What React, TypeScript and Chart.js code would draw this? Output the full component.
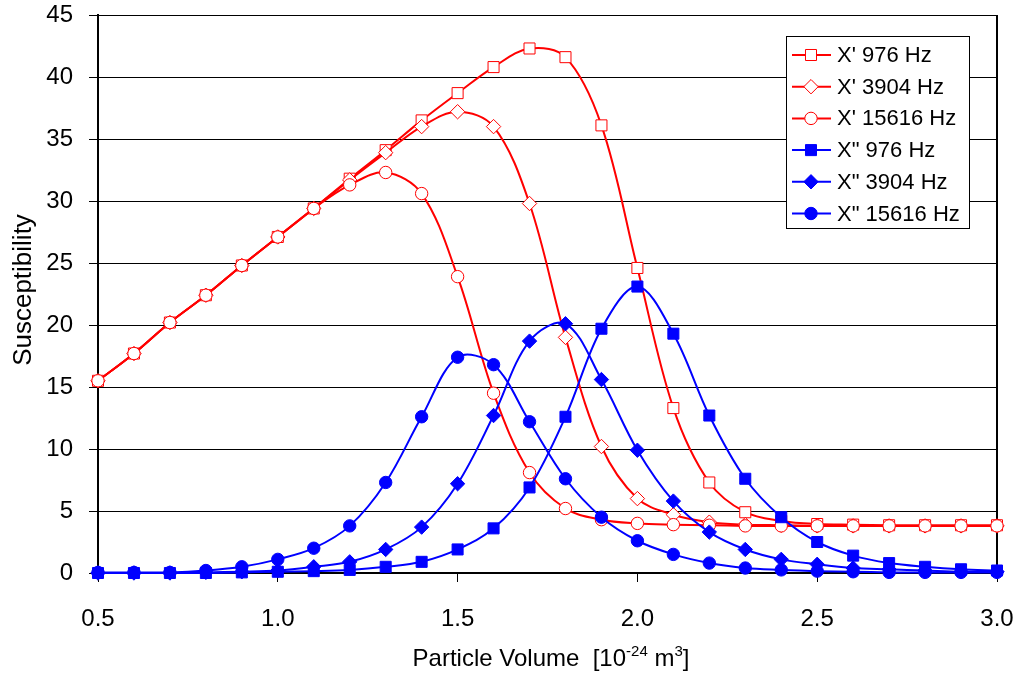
import React, { useEffect, useRef } from 'react';
import { Chart, registerables } from 'chart.js';

Chart.register(...registerables);

const volumes = [0.5, 0.6, 0.7, 0.8, 0.9, 1.0, 1.1, 1.2, 1.3, 1.4, 1.5, 1.6, 1.7, 1.8, 1.9, 2.0, 2.1, 2.2, 2.3, 2.4, 2.5, 2.6, 2.7, 2.8, 2.9, 3.0];

const xp976 = [15.5, 17.7, 20.2, 22.4, 24.8, 27.1, 29.4, 31.8, 34.1, 36.5, 38.7, 40.8, 42.3, 41.6, 36.1, 24.6, 13.3, 7.3, 4.9, 4.2, 3.95, 3.9, 3.85, 3.85, 3.85, 3.85];
const xp3904 = [15.5, 17.7, 20.2, 22.4, 24.8, 27.1, 29.4, 31.7, 33.9, 36.0, 37.2, 36.0, 29.8, 19.0, 10.2, 6.0, 4.7, 4.1, 3.9, 3.85, 3.8, 3.8, 3.8, 3.8, 3.8, 3.8];
const xp15616 = [15.5, 17.7, 20.2, 22.4, 24.8, 27.1, 29.4, 31.3, 32.3, 30.6, 23.9, 14.5, 8.1, 5.2, 4.3, 4.0, 3.9, 3.85, 3.8, 3.8, 3.8, 3.8, 3.8, 3.8, 3.8, 3.8];
const xpp976 = [0, 0, 0, 0, 0.05, 0.1, 0.15, 0.25, 0.5, 0.9, 1.9, 3.6, 6.9, 12.6, 19.7, 23.1, 19.3, 12.7, 7.6, 4.5, 2.5, 1.4, 0.8, 0.5, 0.3, 0.2];
const xpp3904 = [0, 0, 0, 0.05, 0.1, 0.2, 0.5, 0.9, 1.9, 3.7, 7.2, 12.7, 18.7, 20.1, 15.6, 9.9, 5.8, 3.3, 1.9, 1.1, 0.7, 0.4, 0.3, 0.2, 0.1, 0.1];
const xpp15616 = [0.05, 0.05, 0.05, 0.2, 0.5, 1.1, 2.0, 3.8, 7.3, 12.6, 17.4, 16.8, 12.2, 7.6, 4.5, 2.6, 1.5, 0.8, 0.4, 0.25, 0.15, 0.1, 0.05, 0.05, 0.05, 0.05];

const seriesLabels = ["X' 976 Hz", "X' 3904 Hz", "X' 15616 Hz", 'X" 976 Hz', 'X" 3904 Hz', 'X" 15616 Hz'];
const seriesValues = [xp976, xp3904, xp15616, xpp976, xpp3904, xpp15616];
const seriesShapes = ['rect', 'rectRot', 'circle', 'rect', 'rectRot', 'circle'];

const yTitle = 'Susceptibility';
const xTitleParts = ['Particle Volume  [10', '-24', ' m', '3', ']'];

const FONT = '"Liberation Sans", Arial, Helvetica, sans-serif';
const RED = '#ff0000';
const BLUE = '#0000ff';

const radiusFor = (shape: string) => (shape === 'rect' ? 7.8 : shape === 'rectRot' ? 7.2 : 6.2);

function drawMarker(ctx: CanvasRenderingContext2D, shape: string, x: number, y: number, r: number, fill: string, stroke: string) {
  ctx.beginPath();
  if (shape === 'rect') {
    const s = Math.SQRT1_2 * r;
    ctx.rect(x - s, y - s, 2 * s, 2 * s);
  } else if (shape === 'rectRot') {
    ctx.moveTo(x - r, y);
    ctx.lineTo(x, y - r);
    ctx.lineTo(x + r, y);
    ctx.lineTo(x, y + r);
    ctx.closePath();
  } else {
    ctx.arc(x, y, r, 0, Math.PI * 2);
  }
  ctx.fillStyle = fill;
  ctx.fill();
  ctx.lineWidth = 1;
  ctx.strokeStyle = stroke;
  ctx.stroke();
}

const decorPlugin = {
  id: 'decor',
  beforeDatasetsDraw(chart: any) {
    const { ctx, chartArea: a } = chart;
    ctx.save();
    ctx.strokeStyle = '#000';
    ctx.lineWidth = 2;
    ctx.beginPath();
    ctx.moveTo(a.right, a.top);
    ctx.lineTo(a.right, a.bottom);
    ctx.stroke();
    ctx.restore();
  },
  afterDraw(chart: any) {
    const { ctx } = chart;
    ctx.save();
    // legend box
    const bx = 786, by = 36, bw = 183, bh = 192;
    ctx.fillStyle = '#fff';
    ctx.fillRect(bx, by, bw, bh);
    ctx.strokeStyle = '#000';
    ctx.lineWidth = 1;
    ctx.strokeRect(bx + 0.5, by + 0.5, bw, bh);
    ctx.font = `22px ${FONT}`;
    ctx.textAlign = 'left';
    ctx.textBaseline = 'middle';
    for (let i = 0; i < seriesLabels.length; i++) {
      const y = 55 + i * 31.7;
      const isRed = i < 3;
      const col = isRed ? RED : BLUE;
      ctx.strokeStyle = col;
      ctx.lineWidth = 2;
      ctx.beginPath();
      ctx.moveTo(792, y);
      ctx.lineTo(831, y);
      ctx.stroke();
      drawMarker(ctx, seriesShapes[i], 811, y, radiusFor(seriesShapes[i]), isRed ? '#fff' : BLUE, col);
      ctx.fillStyle = '#000';
      ctx.fillText(seriesLabels[i], 837, y + 1);
    }
    // y title
    ctx.save();
    ctx.translate(24, 290);
    ctx.rotate(-Math.PI / 2);
    ctx.font = `26px ${FONT}`;
    ctx.textAlign = 'center';
    ctx.textBaseline = 'middle';
    ctx.fillStyle = '#000';
    ctx.fillText(yTitle, 0, 0);
    ctx.restore();
    // x title with superscripts
    const big = `24px ${FONT}`;
    const small = `15px ${FONT}`;
    const fonts = [big, small, big, small, big];
    const offs = [0, -10, 0, -10, 0];
    let total = 0;
    const widths: number[] = [];
    for (let i = 0; i < xTitleParts.length; i++) {
      ctx.font = fonts[i];
      const w = ctx.measureText(xTitleParts[i]).width;
      widths.push(w);
      total += w;
    }
    let x = 551 - total / 2;
    ctx.textAlign = 'left';
    ctx.textBaseline = 'alphabetic';
    ctx.fillStyle = '#000';
    for (let i = 0; i < xTitleParts.length; i++) {
      ctx.font = fonts[i];
      ctx.fillText(xTitleParts[i], x, 666 + offs[i]);
      x += widths[i];
    }
    ctx.restore();
  },
};

export default function App() {
  const ref = useRef<HTMLCanvasElement | null>(null);
  useEffect(() => {
    document.body.style.margin = '0';
    const canvas = ref.current;
    if (!canvas) return;
    Chart.defaults.font.family = FONT;
    Chart.defaults.color = '#000';
    const datasets = seriesValues.map((vals, i) => {
      const isRed = i < 3;
      const col = isRed ? RED : BLUE;
      return {
        label: seriesLabels[i],
        data: volumes.map((v, j) => ({ x: v, y: vals[j] })),
        borderColor: col,
        borderWidth: 2,
        backgroundColor: col,
        pointStyle: seriesShapes[i],
        pointRadius: radiusFor(seriesShapes[i]),
        pointBackgroundColor: isRed ? '#fff' : BLUE,
        pointBorderColor: col,
        pointBorderWidth: 1,
        tension: 0.35,
        clip: false,
        order: 6 - i,
      };
    });
    const chart = new Chart(canvas, {
      type: 'line',
      data: { datasets },
      plugins: [decorPlugin],
      options: {
        animation: false,
        responsive: false,
        events: [],
        layout: { padding: { left: 0, right: 20, top: 15, bottom: 0 } },
        plugins: { legend: { display: false }, tooltip: { enabled: false }, title: { display: false } },
        scales: {
          x: {
            type: 'linear',
            min: 0.5,
            max: 3.0,
            afterFit: (s: any) => { s.height = 104; s.paddingLeft = 0; s.paddingRight = 0; },
            grid: { drawOnChartArea: false, drawTicks: true, tickLength: 9, color: '#000', lineWidth: 1 },
            border: { display: true, color: '#000', width: 2 },
            ticks: {
              stepSize: 0.5,
              padding: 23,
              font: { size: 24, family: FONT },
              color: '#000',
              maxRotation: 0,
              callback: (v: any) => Number(v).toFixed(1),
            },
          },
          y: {
            min: 0,
            max: 45,
            afterFit: (s: any) => { s.width = 98; s.paddingTop = 0; s.paddingBottom = 0; },
            grid: { color: '#000', lineWidth: 1, tickLength: 9 },
            border: { display: true, color: '#000', width: 2 },
            ticks: { stepSize: 5, padding: 16, font: { size: 24, family: FONT }, color: '#000' },
          },
        },
      },
    } as any);
    return () => chart.destroy();
  }, []);
  return (
    <div style={{ width: 1017, height: 677, position: 'relative', background: '#fff' }}>
      <canvas ref={ref} width={1017} height={677} style={{ display: 'block' }} />
    </div>
  );
}
